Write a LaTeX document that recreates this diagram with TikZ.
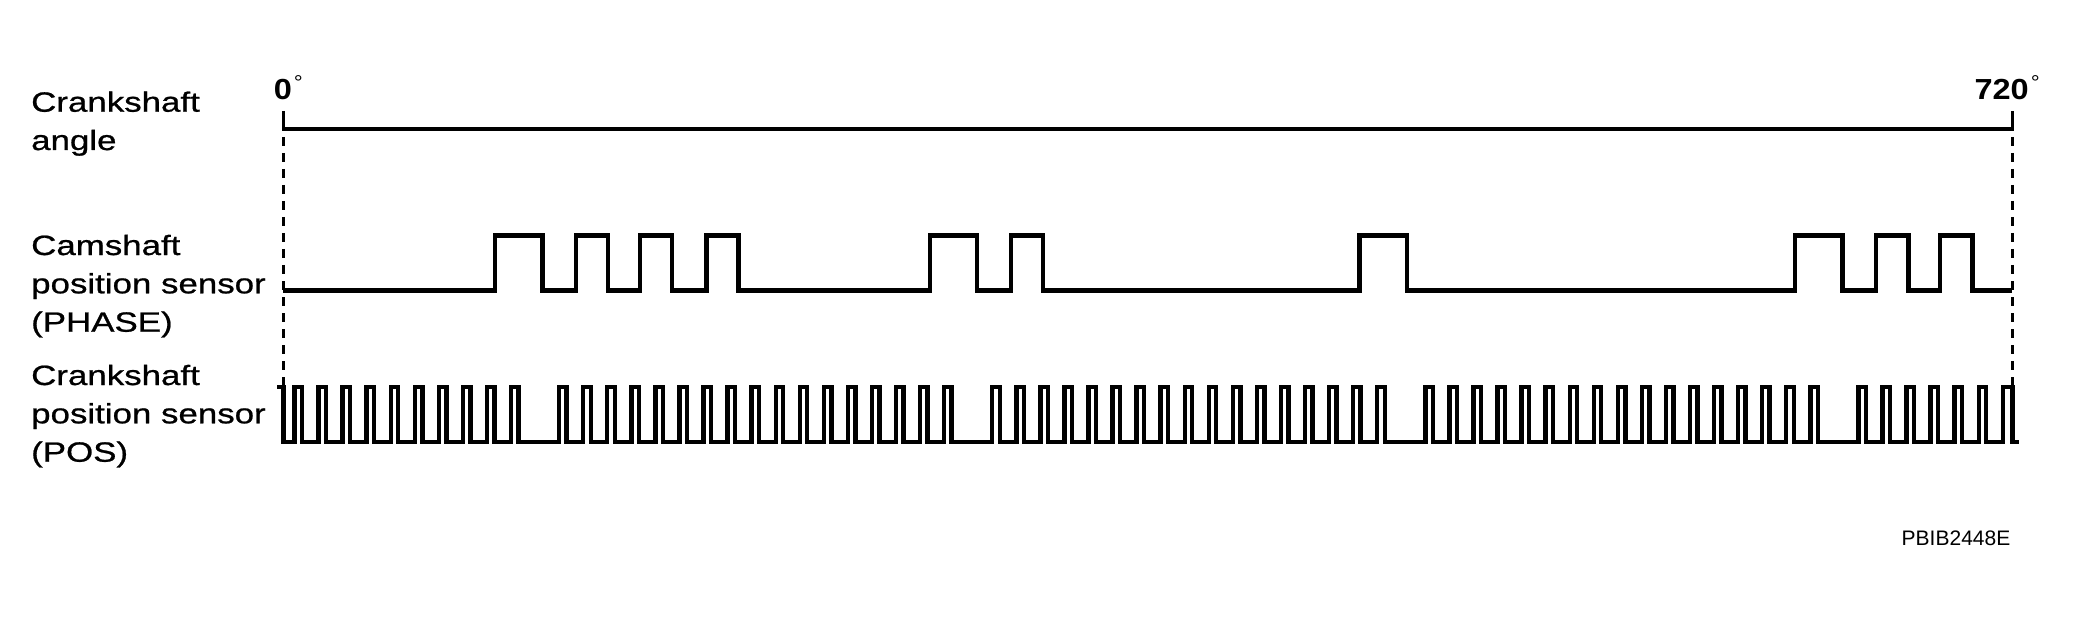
\documentclass[tikz,border=0pt]{standalone}
\usepackage{fontspec}
\setmainfont{Liberation Sans}
\newfontfamily\lblfont{Liberation Sans}[FakeStretch=1.25,FakeBold=0.8]
\newfontfamily\angfont{Liberation Sans}[FakeStretch=1.12]
\begin{document}
\begin{tikzpicture}[x=1pt,y=-1pt,
  lbl/.style={anchor=base west,inner sep=0pt,font=\lblfont\fontsize{27.9}{38.3}\selectfont},
  ang/.style={anchor=base west,inner sep=0pt,font=\angfont\bfseries\fontsize{29}{29}\selectfont},
  code/.style={anchor=base west,inner sep=0pt,font=\fontsize{21}{21}\selectfont},
  sig/.style={line width=4.4pt,line join=miter},
  axisline/.style={line width=3.2pt},
  guide/.style={line width=3pt,dash pattern=on 9pt off 7pt}]
\fill[white] (0,0) rectangle (2076,620);
\useasboundingbox (0,0) rectangle (2076,620);

% labels
\node[lbl] (la1) at (31,111.7) {Crankshaft};
\node[lbl] (la2) at (31,150) {angle};
\node[lbl] (lb1) at (31,255) {Camshaft};
\node[lbl] (lb2) at (31,293.3) {position sensor};
\node[lbl] (lb3) at (31,331.7) {(PHASE)};
\node[lbl] (lc1) at (31,385) {Crankshaft};
\node[lbl] (lc2) at (31,423.3) {position sensor};
\node[lbl] (lc3) at (31,461.7) {(POS)};

% angle labels
\node[ang] (a0) at (273.7,99.3) {0\hspace{2pt}\raisebox{10pt}{\mdseries\fontsize{20}{20}\selectfont °}};
\node[ang] (a720) at (1974.4,99.3) {720\hspace{2pt}\raisebox{10pt}{\mdseries\fontsize{20}{20}\selectfont °}};

% code
\node[code] (pcode) at (1901.5,545) {PBIB2448E};

% angle axis
\coordinate (z0) at (283.3,129);
\coordinate (z720) at (2012.3,129);
\draw[axisline] ([yshift=18pt]z0) -- (z0) -- (z720) -- ([yshift=18pt]z720);

% dashed guides
\draw[guide] (283.3,137) -- (283.3,385);
\draw[guide] (2012.3,137) -- (2012.3,385);

% camshaft signal
\draw[sig] (283.3,290.3)
  \foreach \r/\f in {495/542.5, 576/608, 640/672, 706.5/738.3, 930/977, 1011/1043, 1359.5/1407, 1795/1842.3, 1876/1908.3, 1940/1972.3}
  { -- (\r,290.3) -- (\r,235.5) -- (\f,235.5) -- (\f,290.3) }
  -- (2012.3,290.3);

% crankshaft signal
\draw[sig] (277,387) -- (283.3,387) -- (283.3,441.7)
  \foreach \n in {0,...,9,11,12,...,27,29,30,...,45,47,48,...,63,65,66,...,70}
  { -- (294.5+24.06*\n,441.7) -- (294.5+24.06*\n,387) -- (302+24.06*\n,387) -- (302+24.06*\n,441.7) }
  -- (2002.8,441.7) -- (2002.8,387) -- (2012.3,387) -- (2012.3,441.7) -- (2018.5,441.7);
\end{tikzpicture}
\end{document}
